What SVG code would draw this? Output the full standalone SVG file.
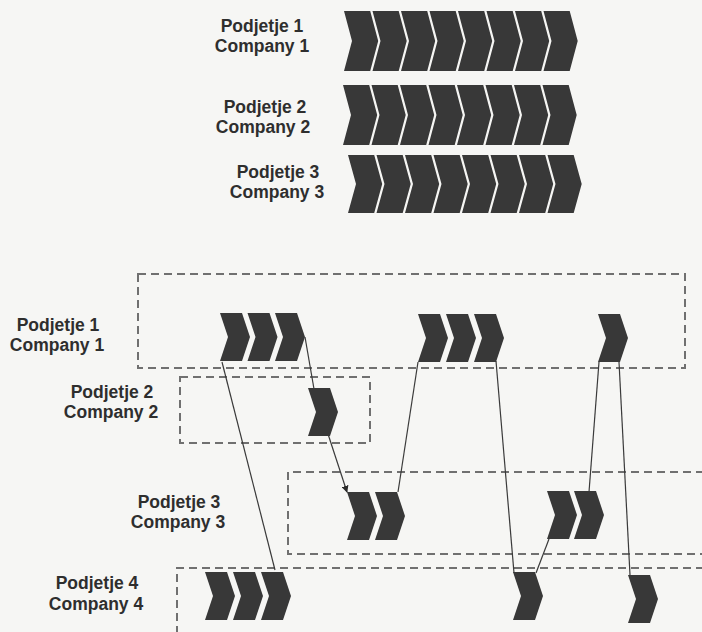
<svg xmlns="http://www.w3.org/2000/svg" width="702" height="632" viewBox="0 0 702 632">
<style>
.lbl{font-family:"Liberation Sans",Arial,sans-serif;font-weight:bold;font-size:17.5px;fill:#2e2e2e;text-anchor:middle}
.chev{fill:#383838}
.dash{fill:none;stroke:#707070;stroke-width:2;stroke-dasharray:8 5}
.conn{fill:none;stroke:#3a3a3a;stroke-width:1.2}
</style>
<defs>
<polygon id="cb" class="chev" points="0,0 26.2,0 34.2,30 26.2,60 0,60 8,30"/>
<polygon id="cs" class="chev" points="0,0 22,0 30,24 22,48 0,48 8,24"/>
<marker id="arr" viewBox="0 0 10 10" refX="9" refY="5" markerWidth="7" markerHeight="7" orient="auto" markerUnits="userSpaceOnUse">
<path d="M0,0 L10,5 L0,10 z" fill="#2a2a2a"/>
</marker>
</defs>
<rect x="0" y="0" width="702" height="632" fill="#f6f6f4"/>

<g id="top-row-1">
<text class="lbl" x="262" y="32">Podjetje 1</text>
<text class="lbl" x="262" y="52">Company 1</text>
<use href="#cb" x="344" y="11"/><use href="#cb" x="372.5" y="11"/><use href="#cb" x="401" y="11"/><use href="#cb" x="429.5" y="11"/>
<use href="#cb" x="458" y="11"/><use href="#cb" x="486.5" y="11"/><use href="#cb" x="515" y="11"/><use href="#cb" x="543.5" y="11"/>
</g>
<g id="top-row-2">
<text class="lbl" x="265" y="113">Podjetje 2</text>
<text class="lbl" x="263" y="133">Company 2</text>
<use href="#cb" x="343" y="85"/><use href="#cb" x="371.5" y="85"/><use href="#cb" x="400" y="85"/><use href="#cb" x="428.5" y="85"/>
<use href="#cb" x="457" y="85"/><use href="#cb" x="485.5" y="85"/><use href="#cb" x="514" y="85"/><use href="#cb" x="542.5" y="85"/>
</g>
<g id="top-row-3">
<text class="lbl" x="278" y="178">Podjetje 3</text>
<text class="lbl" x="277" y="198">Company 3</text>
<g transform="translate(0,155) scale(1,0.967)">
<use href="#cb" x="348"/><use href="#cb" x="376.5"/><use href="#cb" x="405"/><use href="#cb" x="433.5"/>
<use href="#cb" x="462"/><use href="#cb" x="490.5"/><use href="#cb" x="519"/><use href="#cb" x="547.5"/>
</g>
</g>

<g id="company-1">
<rect class="dash" x="138" y="274" width="547" height="94"/>
<text class="lbl" x="58" y="331">Podjetje 1</text>
<text class="lbl" x="57" y="351">Company 1</text>
<use href="#cs" x="220" y="313"/><use href="#cs" x="247.5" y="313"/><use href="#cs" x="275" y="313"/>
<use href="#cs" x="418" y="314"/><use href="#cs" x="446" y="314"/><use href="#cs" x="474" y="314"/>
<use href="#cs" x="598" y="314"/>
</g>
<g id="company-2">
<rect class="dash" x="180" y="377" width="190" height="66"/>
<text class="lbl" x="112" y="398">Podjetje 2</text>
<text class="lbl" x="111" y="418">Company 2</text>
<use href="#cs" x="308" y="388"/>
</g>
<g id="company-3">
<path class="dash" d="M704,472 H288 V554 H704"/>
<text class="lbl" x="179" y="508">Podjetje 3</text>
<text class="lbl" x="178" y="528">Company 3</text>
<use href="#cs" x="347" y="492"/><use href="#cs" x="375" y="492"/>
<use href="#cs" x="547" y="491"/><use href="#cs" x="574" y="491"/>
</g>
<g id="company-4">
<path class="dash" d="M704,568 H177 V634"/>
<text class="lbl" x="97" y="589">Podjetje 4</text>
<text class="lbl" x="96" y="610">Company 4</text>
<use href="#cs" x="205" y="572"/><use href="#cs" x="233" y="572"/><use href="#cs" x="261" y="572"/>
<use href="#cs" x="513" y="572"/>
<use href="#cs" x="628" y="575"/>
</g>

<g id="connectors">
<line class="conn" x1="222" y1="362" x2="275" y2="570"/>
<line class="conn" x1="305" y1="337" x2="314" y2="389"/>
<line class="conn" x1="328" y1="434" x2="347" y2="492" marker-end="url(#arr)"/>
<line class="conn" x1="418" y1="362" x2="398" y2="492"/>
<line class="conn" x1="496" y1="361" x2="514" y2="573"/>
<line class="conn" x1="549" y1="539" x2="536" y2="573"/>
<line class="conn" x1="599" y1="362" x2="589" y2="492"/>
<line class="conn" x1="619" y1="362" x2="630" y2="575"/>
</g>
</svg>
